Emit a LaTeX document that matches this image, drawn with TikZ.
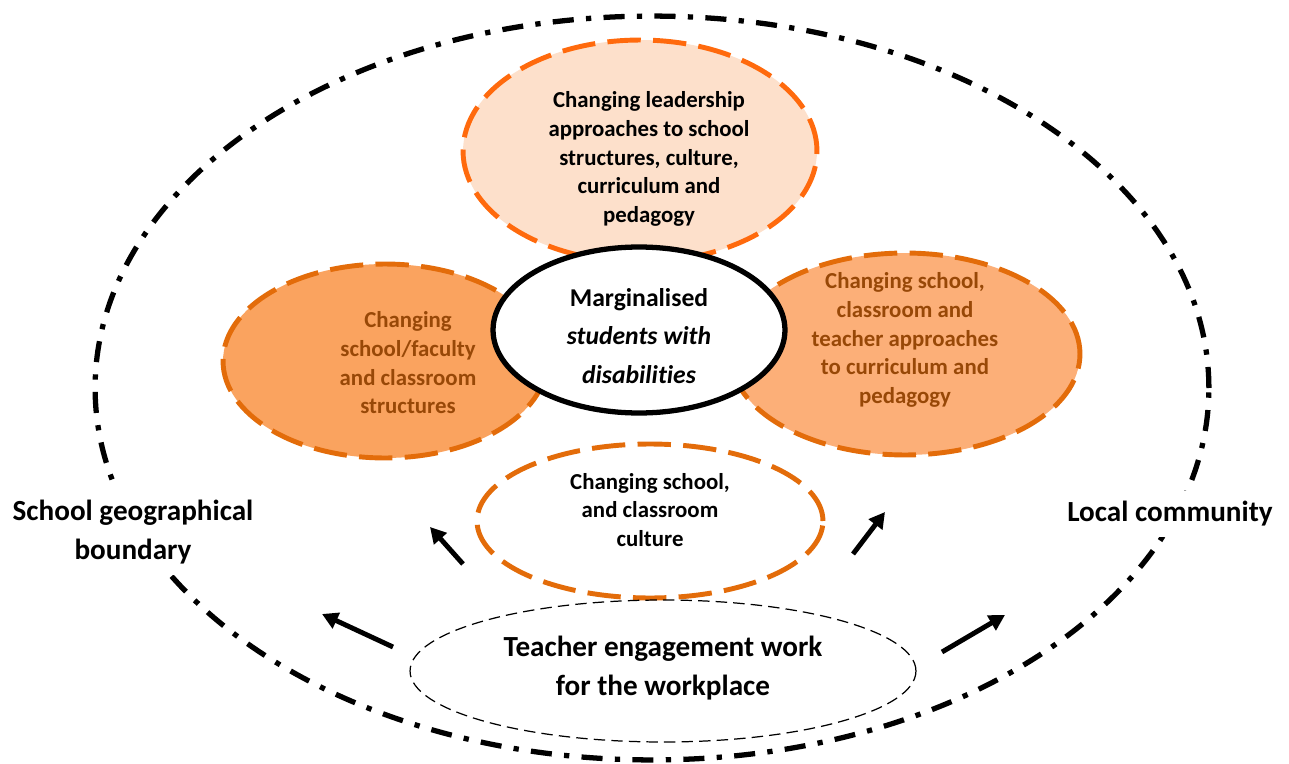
\documentclass[tikz,border=0pt]{standalone}
\usepackage{fontspec}
\setmainfont{Carlito}[Ligatures=NoCommon]
\usetikzlibrary{shapes.geometric, arrows.meta}
\definecolor{peach}{HTML}{FDE0CB}
\definecolor{flame}{HTML}{FF6A0D}
\definecolor{amber}{HTML}{E36C0A}
\definecolor{apricot}{HTML}{FAA35F}
\definecolor{apricotlight}{HTML}{FCAF78}
\definecolor{rust}{HTML}{984807}

\begin{document}
\begin{tikzpicture}[x=0.02cm, y=-0.02cm,
  ring/.style={ellipse, inner sep=0pt},
  orangering/.style={ring, draw=amber, line width=2.8pt, dash pattern=on 19pt off 7pt},
  smalltext/.style={align=center, font=\fontsize{13}{16.3}\selectfont\bfseries},
  bigtext/.style={align=center, font=\fontsize{16.6}{22.4}\selectfont\bfseries},
  push/.style={line width=2.8pt, -{Triangle[length=9pt, width=9.5pt]}}]
  \useasboundingbox (0,0) rectangle (1289,764);

  \node[ring, draw, line width=3pt, dash pattern=on 12pt off 7pt on 3pt off 7pt,
    minimum width=22.28cm, minimum height=14.88cm] (boundary) at (652,388) {};

  \node[orangering, draw=flame, fill=peach, minimum width=7.08cm, minimum height=4.44cm]
    (lead) at (640,151) {};
  \node[orangering, fill=apricot, minimum width=6.48cm, minimum height=3.88cm]
    (struct) at (385,361) {};
  \node[orangering, fill=apricotlight, minimum width=7.0cm, minimum height=4.04cm]
    (curric) at (905,354) {};
  \node[orangering, minimum width=6.92cm, minimum height=3.08cm]
    (culture) at (650,521) {};
  \node[ring, draw, fill=white, line width=3pt, minimum width=5.84cm, minimum height=3.32cm]
    (students) at (639,330) {};
  \node[ring, draw, line width=0.7pt, dash pattern=on 6.5pt off 3.5pt,
    minimum width=10.12cm, minimum height=2.84cm] (teacher) at (663,671) {};

  \node[smalltext] (leadtext) at ([shift={(9,8)}]lead.center)
    {Changing leadership\\approaches to school\\structures, culture,\\curriculum and\\pedagogy};
  \node[smalltext, text=rust] (structtext) at ([shift={(23,2)}]struct.center)
    {Changing\\school/faculty\\and classroom\\structures};
  \node[smalltext, text=rust] (curristext) at ([shift={(0,-14)}]curric.center)
    {Changing school,\\classroom and\\teacher approaches\\to curriculum and\\pedagogy};
  \node[smalltext] (culturetext) at ([shift={(0,-11)}]culture.center)
    {Changing school,\\and classroom\\culture};
  \node[align=center, font=\fontsize{14.6}{21.8}\selectfont\bfseries] (studentstext)
    at ([shift={(0,6)}]students.center)
    {Marginalised\\\textit{students with}\\\textit{disabilities}};
  \node[bigtext] (teachertext) at ([shift={(0,-3)}]teacher.center)
    {Teacher engagement work\\for the workplace};

  \node[bigtext, fill=white, inner sep=6pt] (school) at (133,532) {School geographical\\boundary};
  \node[bigtext, fill=white, inner sep=6pt] (community) at (1170,514) {Local community};

  \coordinate (upleft0) at (463,564);
  \coordinate (upleft1) at (430,527);
  \coordinate (upright0) at (853,554);
  \coordinate (upright1) at (885,512);
  \coordinate (lowleft0) at (393,647);
  \coordinate (lowleft1) at (322,614);
  \coordinate (lowright0) at (942,652);
  \coordinate (lowright1) at (1005,615);
  \draw[push] (upleft0) -- (upleft1);
  \draw[push] (upright0) -- (upright1);
  \draw[push] (lowleft0) -- (lowleft1);
  \draw[push] (lowright0) -- (lowright1);
\end{tikzpicture}
\end{document}
